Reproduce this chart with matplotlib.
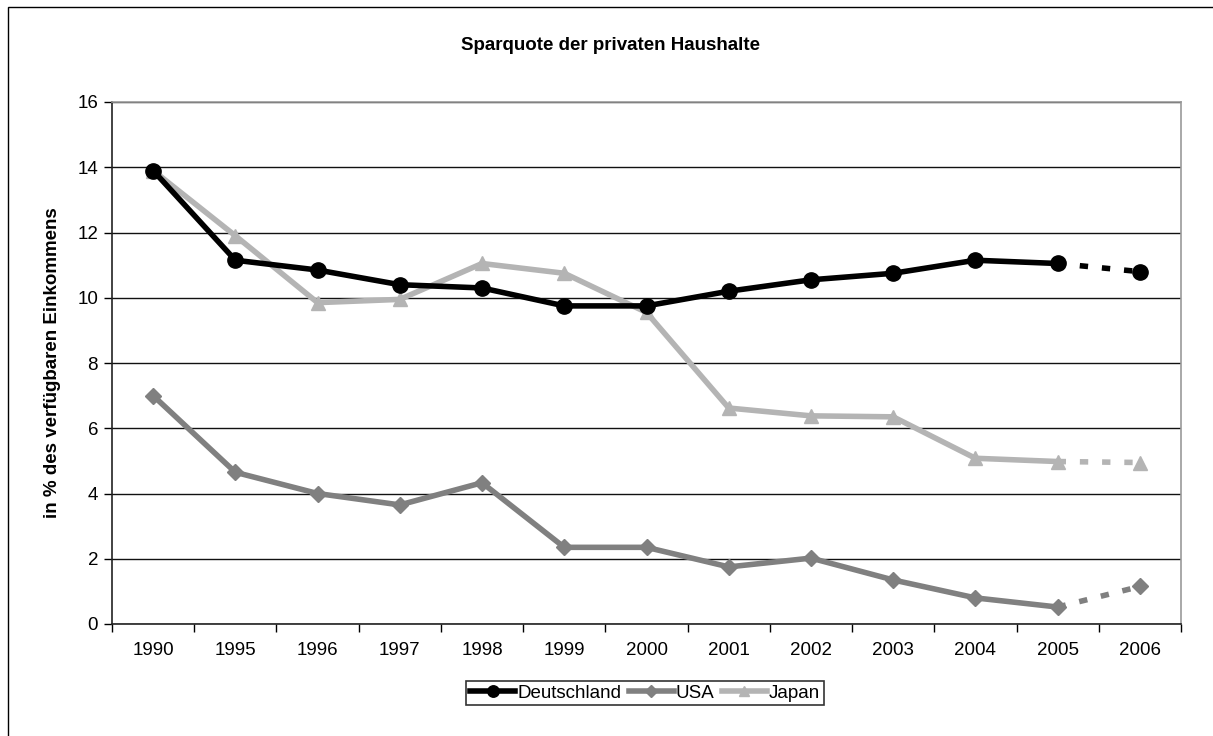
import matplotlib
matplotlib.use("Agg")
import matplotlib.pyplot as plt
from matplotlib.lines import Line2D
from matplotlib.patches import Rectangle

plt.rcParams['font.family'] = ['Liberation Sans', 'DejaVu Sans']

years = ['1990', '1995', '1996', '1997', '1998', '1999', '2000',
         '2001', '2002', '2003', '2004', '2005', '2006']
deutschland = [13.9, 11.15, 10.85, 10.4, 10.3, 9.75, 9.75, 10.2, 10.55, 10.75, 11.15, 11.05, 10.8]
usa = [7.0, 4.65, 4.0, 3.65, 4.33, 2.35, 2.35, 1.75, 2.02, 1.35, 0.8, 0.52, 1.15]
japan = [13.9, 11.9, 9.85, 9.95, 11.05, 10.75, 9.55, 6.62, 6.38, 6.35, 5.08, 4.98, 4.95]

title = 'Sparquote der privaten Haushalte'
ylabel = 'in % des verfügbaren Einkommens'

series = [
    ('Deutschland', deutschland, '#000000', 'o', 11),
    ('USA', usa, '#808080', 'D', 8),
    ('Japan', japan, '#b4b4b4', '^', 10),
]

fig = plt.figure(figsize=(12.13, 7.36), dpi=100)
fig.patches.append(Rectangle((8 / 1213, -0.1), 1.2, (736 - 7) / 736 + 0.1,
                             transform=fig.transFigure, fill=False,
                             edgecolor='black', linewidth=1.0))
ax = fig.add_axes([112 / 1213, 112 / 736, (1181 - 112) / 1213, (624 - 102) / 736])

x = list(range(len(years)))
for idx in [1, 2, 0]:
    name, vals, col, mk, ms = series[idx]
    z = 3 + (idx == 0)
    ax.plot(x[:-1], vals[:-1], color=col, lw=4, marker=mk, ms=ms,
            markeredgecolor=col, zorder=z)
    ax.plot(x[-2:], vals[-2:], color=col, lw=4, ls=(0, (1.5, 2.5)), zorder=z)
    ax.plot(x[-1:], vals[-1:], color=col, lw=0, marker=mk, ms=ms,
            markeredgecolor=col, zorder=z)

handles = []
for name, vals, col, mk, ms in series:
    handles.append(Line2D([], [], color=col, lw=4, marker=mk, ms=ms * 0.75,
                          markeredgecolor=col, label=name))

ax.set_xlim(-0.5, len(years) - 0.5)
ax.set_ylim(0, 16)
ax.set_yticks(range(0, 17, 2))
ax.set_xticks(x)
ax.set_xticklabels(years)
ax.set_xticks([i + 0.5 for i in range(-1, len(years))], minor=True)
ax.tick_params(axis='x', which='major', length=0, pad=13, labelsize=13.5)
ax.tick_params(axis='x', which='minor', length=6, width=1, direction='out')
ax.tick_params(axis='y', length=6, width=1, direction='out', labelsize=13.5, pad=4)
ax.yaxis.grid(True, color='#111111', lw=1)
ax.set_axisbelow(True)
for s in ['left', 'bottom']:
    ax.spines[s].set_color('#222222')
    ax.spines[s].set_linewidth(1.2)
for s in ['top', 'right']:
    ax.spines[s].set_color('#999999')
    ax.spines[s].set_linewidth(1.2)

ax.set_ylabel(ylabel, fontsize=13.5, fontweight='bold', labelpad=12)
fig.text(0.5 + 8 / 1213 / 2, 1 - 45 / 736, title, ha='center', va='center',
         fontsize=13.5, fontweight='bold')

leg = fig.legend(handles=handles, loc='center', bbox_to_anchor=(645 / 1213, 1 - 693 / 736),
                 ncol=3, frameon=True, fancybox=False, edgecolor='black',
                 fontsize=13.5, handlelength=2.4, handletextpad=0.1, columnspacing=0.4,
                 borderpad=0.2)
leg.get_frame().set_linewidth(1.2)

fig.savefig('out.png', dpi=100)
